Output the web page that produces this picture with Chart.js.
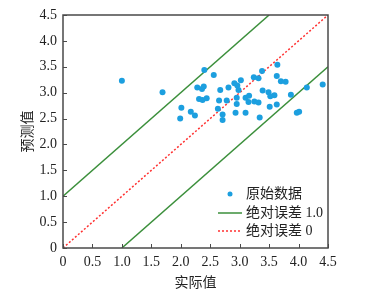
<!DOCTYPE html>
<html>
<head>
<meta charset="utf-8">
<script src="https://cdn.jsdelivr.net/npm/chart.js@4.4.1/dist/chart.umd.min.js"></script>
<style>
  html, body { margin: 0; padding: 0; background: #fff; }
  #wrap { width: 390px; height: 298px; }
</style>
</head>
<body>
<div id="wrap"><canvas id="chart" width="390" height="298"></canvas></div>
<script>
// scatter data: actual vs predicted
const actualVals = [1.00, 1.69, 1.99, 2.01, 2.17, 2.24, 2.28, 2.31, 2.36, 2.37, 2.39, 2.40, 2.44, 2.56,
    2.63, 2.65, 2.67, 2.71, 2.71, 2.78, 2.81, 2.91, 2.93, 2.95, 2.95, 2.96, 2.98, 3.02, 3.10, 3.10,
    3.15, 3.16, 3.24, 3.25, 3.32, 3.32, 3.34, 3.38, 3.39, 3.49, 3.51, 3.52, 3.59, 3.63, 3.63, 3.64,
    3.70, 3.78, 3.87, 3.97, 4.01, 4.14, 4.41];
const predictedVals = [3.23, 3.01, 2.50, 2.71, 2.63, 2.56, 3.10, 2.88, 3.07, 2.86, 3.12, 3.44, 2.89, 3.34,
    2.69, 2.85, 3.05, 2.58, 2.47, 2.85, 3.10, 3.18, 2.61, 2.90, 2.78, 3.14, 3.05, 3.24, 2.61, 2.90,
    2.82, 2.94, 3.30, 2.83, 3.28, 2.81, 2.52, 3.42, 3.04, 3.01, 2.73, 2.93, 2.95, 3.32, 2.77, 3.54,
    3.22, 3.21, 2.96, 2.61, 2.63, 3.10, 3.16];

// reference lines (endpoints)
const upperX = [0, 3.5];
const upperY = [1, 4.5];
const lowerX = [1, 4.5];
const lowerY = [0, 3.5];
const zeroX = [0, 4.5];
const zeroY = [0, 4.5];

const tickValues = [0, 0.5, 1.0, 1.5, 2.0, 2.5, 3.0, 3.5, 4.0, 4.5];
const seriesNames = ['原始数据', '绝对误差 1.0', '绝对误差 0'];

const toPoints = (xs, ys) => xs.map((x, i) => ({ x: x, y: ys[i] }));

const serifFont = "'Liberation Serif', 'DejaVu Serif', 'Noto Sans CJK SC', serif";
const frameColor = '#4a4a4a';

// frame, inward ticks and legend
const framePlugin = {
    id: 'frame',
    afterDraw(chart) {
        const ctx = chart.ctx;
        const a = chart.chartArea;
        const xs = chart.scales.x;
        const ys = chart.scales.y;
        ctx.save();
        ctx.strokeStyle = frameColor;
        ctx.lineWidth = 1;
        tickValues.forEach(v => {
            const px = Math.round(xs.getPixelForValue(v)) + 0.5;
            ctx.beginPath();
            ctx.moveTo(px, a.bottom);
            ctx.lineTo(px, a.bottom - 4);
            ctx.stroke();
            const py = Math.round(ys.getPixelForValue(v)) + 0.5;
            ctx.beginPath();
            ctx.moveTo(a.left, py);
            ctx.lineTo(a.left + 4, py);
            ctx.stroke();
        });
        ctx.lineWidth = 1.5;
        ctx.strokeRect(a.left, a.top, a.right - a.left, a.bottom - a.top);

        // legend
        const ds = chart.data.datasets;
        const rowsY = [194, 213, 231];
        const textX = 246;
        ctx.font = "14px " + serifFont;
        ctx.textBaseline = 'middle';
        ctx.fillStyle = '#222';
        ds.forEach((d, i) => {
            if (!d.label) return;
            const y = rowsY[i];
            if (d.type === 'scatter') {
                ctx.beginPath();
                ctx.fillStyle = d.backgroundColor;
                ctx.arc(230, y, 2.5, 0, Math.PI * 2);
                ctx.fill();
            } else {
                ctx.beginPath();
                ctx.strokeStyle = d.borderColor;
                ctx.lineWidth = d.borderWidth;
                ctx.setLineDash(d.borderDash || []);
                ctx.moveTo(218, y);
                ctx.lineTo(242, y);
                ctx.stroke();
                ctx.setLineDash([]);
            }
            ctx.fillStyle = '#222';
            ctx.fillText(d.label, textX, y);
        });
        ctx.restore();
    }
};

const ctx = document.getElementById('chart').getContext('2d');
new Chart(ctx, {
    data: {
        datasets: [
            {
                type: 'scatter',
                label: seriesNames[0],
                data: toPoints(actualVals, predictedVals),
                backgroundColor: '#1c9fdf',
                borderColor: '#1c9fdf',
                pointRadius: 3,
                pointBorderWidth: 0,
                order: 0
            },
            {
                type: 'line',
                label: seriesNames[1],
                data: toPoints(upperX, upperY),
                borderColor: '#3b8f3b',
                borderWidth: 1.5,
                pointRadius: 0,
                fill: false,
                order: 1
            },
            {
                type: 'line',
                label: seriesNames[2],
                data: toPoints(zeroX, zeroY),
                borderColor: '#ff3030',
                borderWidth: 1.5,
                borderDash: [2, 2],
                pointRadius: 0,
                fill: false,
                order: 1
            },
            {
                type: 'line',
                label: '',
                data: toPoints(lowerX, lowerY),
                borderColor: '#3b8f3b',
                borderWidth: 1.5,
                pointRadius: 0,
                fill: false,
                order: 1
            }
        ]
    },
    options: {
        responsive: false,
        animation: false,
        layout: { padding: { top: 15, right: 62, left: 0, bottom: 0 } },
        plugins: {
            legend: { display: false },
            tooltip: { enabled: false }
        },
        scales: {
            x: {
                type: 'linear',
                min: 0,
                max: 4.5,
                afterFit: s => { s.height = 50; },
                afterBuildTicks: s => { s.ticks = tickValues.map(v => ({ value: v })); },
                grid: { display: false, drawTicks: false },
                border: { display: false },
                ticks: {
                    padding: 6,
                    color: '#222',
                    font: { family: serifFont, size: 14 },
                    maxRotation: 0,
                    callback: v => (v === 0 ? '0' : v.toFixed(1))
                },
                title: {
                    display: true,
                    text: '实际值',
                    color: '#222',
                    font: { family: serifFont, size: 14 },
                    padding: { top: 0, bottom: 6 }
                }
            },
            y: {
                type: 'linear',
                min: 0,
                max: 4.5,
                afterFit: s => { s.width = 63; },
                afterBuildTicks: s => { s.ticks = tickValues.map(v => ({ value: v })); },
                grid: { display: false, drawTicks: false },
                border: { display: false },
                ticks: {
                    padding: 6,
                    color: '#222',
                    font: { family: serifFont, size: 14 },
                    callback: v => (v === 0 ? '0' : v.toFixed(1))
                },
                title: {
                    display: true,
                    text: '预测值',
                    color: '#222',
                    font: { family: serifFont, size: 14 },
                    padding: { top: 20, bottom: 0 }
                }
            }
        }
    },
    plugins: [framePlugin]
});
</script>
</body>
</html>
